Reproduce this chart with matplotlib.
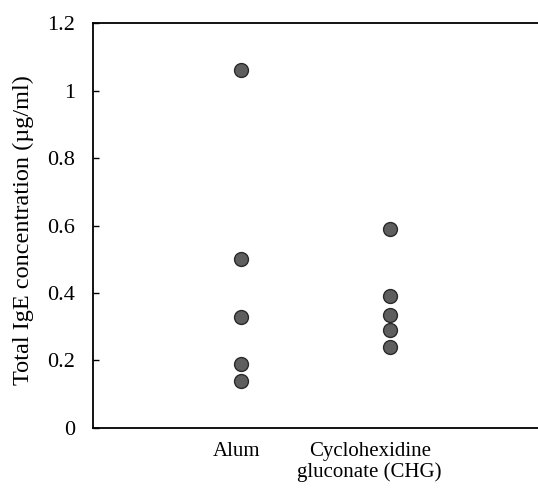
import matplotlib.pyplot as plt
from matplotlib.transforms import ScaledTranslation

plt.rcParams['font.family'] = ['Liberation Serif', 'DejaVu Serif']

groups = ['Alum', 'Cyclohexidine\ngluconate (CHG)']
alum = [1.06, 0.50, 0.33, 0.19, 0.14]
chg = [0.59, 0.39, 0.335, 0.29, 0.24]
yticks = [0, 0.2, 0.4, 0.6, 0.8, 1, 1.2]
ytick_labels = ['0', '0.2', '0.4', '0.6', '0.8', '1', '1.2']

fig = plt.figure(figsize=(5.38, 5.04), dpi=100)
ax = fig.add_axes([0.173, 0.151, 0.827, 0.803])

for i, vals in enumerate([alum, chg]):
    ax.plot([i + 1] * len(vals), vals, 'o', markersize=10,
            markerfacecolor='#5e5e5e', markeredgecolor='#2a2a2a', markeredgewidth=1)

ax.set_xlim(0, 3)
ax.set_ylim(0, 1.2)
ax.set_yticks(yticks)
ax.set_yticklabels(ytick_labels, fontsize=16)
ax.set_xticks([1, 2])
ax.set_xticklabels(groups, fontsize=15, linespacing=1.1)
ax.tick_params(axis='y', direction='in', length=4, width=1, pad=13)
ax.tick_params(axis='x', length=0, pad=10)
ax.spines['right'].set_visible(False)
for s in ['left', 'bottom', 'top']:
    ax.spines[s].set_linewidth(1.3)

# nudge the category labels like in the original
for lab, dx in zip(ax.get_xticklabels(), [-5, -20]):
    lab.set_transform(lab.get_transform() + ScaledTranslation(dx / 100, 0, fig.dpi_scale_trans))

ax.set_ylabel('Total IgE concentration (\u00b5g/ml)', fontsize=17.5)
ax.yaxis.set_label_coords(-0.133, 0.49)

fig.savefig('out.png', dpi=100)
